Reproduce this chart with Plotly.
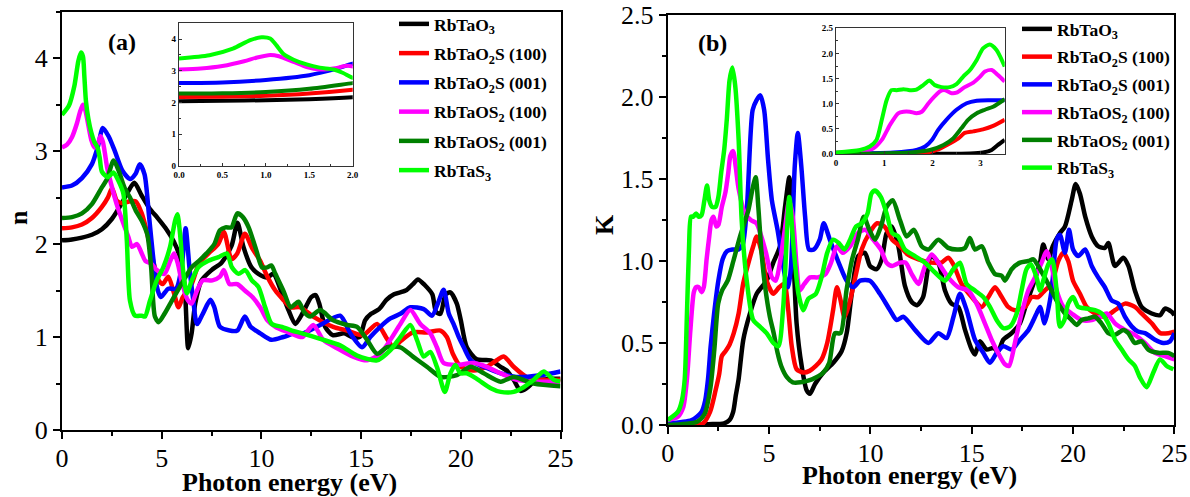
import plotly.graph_objects as go

W, H = 1190, 497
SERIF = "Liberation Serif, Times New Roman, serif"

names = ["RbTaO<sub>3</sub>", "RbTaO<sub>2</sub>S (100)", "RbTaO<sub>2</sub>S (001)",
         "RbTaOS<sub>2</sub> (100)", "RbTaOS<sub>2</sub> (001)", "RbTaS<sub>3</sub>"]
colors = ["#000000", "#ff0000", "#0000ff", "#ff00ff", "#008000", "#00ff00"]

# ---------------- refractive index n(E) ----------------
n_E_RbTaO3 = [0, 0.5, 1.0, 1.5, 2.0, 2.5, 3.0, 3.3, 3.63, 4.0, 4.4, 4.8, 5.2, 5.6, 5.9, 6.15, 6.33, 6.5, 6.68, 7.0, 7.5, 8.0, 8.5, 8.8, 9.1, 9.5, 9.85, 10.28, 10.6, 11.03, 11.36, 11.7, 12.1, 12.5, 12.72, 12.9, 13.2, 13.58, 14.16, 14.54, 14.93, 15.2, 15.5, 15.9, 16.27, 16.65, 17.23, 17.6, 17.85, 18.19, 18.57, 18.76, 18.98, 19.24, 19.48, 19.8, 20.0, 20.3, 20.8, 21.5, 22.0, 22.3, 22.65, 23.0, 23.3, 23.75, 24.5, 25.0]
n_RbTaO3 = [2.04, 2.05, 2.07, 2.1, 2.16, 2.27, 2.44, 2.56, 2.66, 2.52, 2.38, 2.28, 2.17, 2.03, 1.87, 1.55, 0.88, 1.04, 1.36, 1.61, 1.72, 1.8, 1.98, 2.23, 1.97, 1.75, 1.68, 1.64, 1.68, 1.47, 1.29, 1.14, 1.27, 1.43, 1.45, 1.36, 1.11, 1.02, 1.04, 1.0, 1.0, 1.18, 1.25, 1.3, 1.4, 1.46, 1.5, 1.57, 1.62, 1.56, 1.46, 1.27, 1.25, 1.46, 1.48, 1.36, 1.18, 0.89, 0.76, 0.75, 0.68, 0.64, 0.54, 0.42, 0.45, 0.53, 0.55, 0.55]

n_E_RbTaO2S_100 = [0, 0.5, 1.0, 1.5, 2.0, 2.3, 2.51, 2.74, 3.03, 3.41, 3.7, 4.0, 4.28, 4.57, 4.85, 5.05, 5.33, 5.62, 5.84, 6.06, 6.5, 6.87, 7.35, 7.83, 8.12, 8.5, 8.79, 9.17, 9.55, 9.94, 10.3, 10.7, 11.1, 11.47, 11.95, 12.6, 13.6, 14.3, 15.1, 15.8, 16.3, 16.63, 17.0, 17.6, 18.3, 18.98, 19.3, 19.6, 20.0, 20.65, 21.3, 21.8, 22.15, 22.65, 23.3, 24.0, 25.0]
n_RbTaO2S_100 = [2.17, 2.18, 2.21, 2.28, 2.4, 2.5, 2.6, 2.47, 2.44, 2.46, 2.46, 2.33, 2.11, 1.82, 1.61, 1.57, 1.65, 1.47, 1.32, 1.43, 1.57, 1.79, 1.9, 2.0, 2.13, 1.84, 1.9, 2.11, 1.95, 1.82, 1.65, 1.5, 1.4, 1.32, 1.32, 1.22, 1.11, 1.07, 1.02, 1.14, 0.98, 0.89, 0.96, 1.05, 1.05, 1.07, 1.0, 0.82, 0.68, 0.64, 0.68, 0.75, 0.79, 0.68, 0.57, 0.54, 0.54]

n_E_RbTaO2S_001 = [0, 0.5, 1.0, 1.5, 1.8, 2.05, 2.36, 2.65, 3.03, 3.41, 3.7, 3.9, 4.14, 4.37, 4.57, 4.76, 4.95, 5.33, 5.72, 6.0, 6.2, 6.39, 6.58, 6.77, 7.06, 7.44, 7.64, 7.92, 8.4, 8.79, 9.17, 9.46, 9.94, 10.5, 11.1, 11.66, 12.1, 12.95, 13.95, 14.46, 15.05, 15.46, 15.96, 16.47, 16.97, 17.47, 18.14, 18.56, 18.9, 19.14, 19.4, 19.64, 19.9, 20.15, 20.5, 21.15, 22.0, 22.8, 24.0, 25.0]
n_RbTaO2S_001 = [2.61, 2.63, 2.71, 2.86, 3.05, 3.25, 3.15, 3.0, 2.79, 2.7, 2.76, 2.86, 2.75, 2.29, 1.86, 1.54, 1.43, 1.52, 1.52, 1.75, 2.17, 1.75, 1.4, 1.14, 1.25, 1.4, 1.32, 1.11, 1.07, 1.07, 1.22, 1.11, 1.04, 0.97, 1.0, 1.04, 1.04, 1.13, 1.23, 1.04, 0.89, 1.0, 1.11, 1.2, 1.25, 1.32, 1.3, 1.23, 1.39, 1.51, 1.25, 1.14, 1.0, 0.89, 0.75, 0.68, 0.61, 0.57, 0.59, 0.63]

n_E_RbTaOS2_100 = [0, 0.25, 0.5, 0.75, 0.9, 1.05, 1.15, 1.32, 1.47, 1.62, 1.8, 1.93, 2.05, 2.15, 2.26, 2.46, 2.74, 3.03, 3.32, 3.51, 3.76, 4.0, 4.18, 4.47, 4.76, 5.14, 5.43, 5.62, 5.81, 6.0, 6.3, 6.5, 6.77, 7.06, 7.54, 7.92, 8.12, 8.4, 8.79, 9.17, 9.55, 9.94, 10.3, 10.7, 11.1, 11.47, 12.05, 12.6, 13.1, 13.8, 14.6, 15.3, 15.96, 16.47, 16.97, 17.47, 17.97, 18.47, 18.8, 19.14, 19.8, 20.65, 21.3, 22.0, 22.8, 23.66, 25.0]
n_RbTaOS2_100 = [3.04, 3.07, 3.15, 3.3, 3.42, 3.5, 3.46, 3.28, 3.12, 3.04, 3.08, 3.16, 3.1, 2.98, 2.83, 2.65, 2.43, 2.25, 2.08, 1.97, 2.0, 1.9, 1.82, 1.79, 1.72, 1.68, 1.82, 1.9, 1.79, 1.6, 1.4, 1.36, 1.5, 1.61, 1.61, 1.65, 1.72, 1.57, 1.57, 1.5, 1.43, 1.32, 1.18, 1.11, 1.07, 1.04, 1.0, 1.13, 0.97, 0.88, 0.79, 0.75, 0.82, 0.97, 1.14, 1.29, 1.14, 1.04, 0.89, 0.72, 0.7, 0.72, 0.68, 0.61, 0.54, 0.52, 0.52]

n_E_RbTaOS2_001 = [0, 0.5, 1.0, 1.5, 2.0, 2.26, 2.59, 2.84, 3.13, 3.41, 3.7, 4.0, 4.28, 4.47, 4.66, 4.85, 5.14, 5.43, 5.72, 6.1, 6.5, 6.87, 7.25, 7.64, 7.92, 8.2, 8.5, 8.79, 9.07, 9.36, 9.75, 10.03, 10.3, 10.5, 10.7, 11.1, 11.47, 11.86, 12.14, 12.45, 12.95, 13.6, 14.3, 14.8, 15.3, 15.8, 16.3, 16.97, 17.6, 18.3, 19.0, 19.8, 20.5, 21.15, 22.0, 22.65, 23.66, 25.0]
n_RbTaOS2_001 = [2.28, 2.29, 2.33, 2.43, 2.61, 2.7, 2.9, 2.79, 2.61, 2.5, 2.36, 2.25, 2.1, 1.75, 1.22, 1.16, 1.25, 1.36, 1.47, 1.61, 1.75, 1.82, 1.9, 2.0, 2.15, 2.18, 2.18, 2.33, 2.29, 2.18, 1.93, 1.75, 1.75, 1.77, 1.68, 1.5, 1.32, 1.38, 1.27, 1.22, 1.29, 1.18, 1.13, 1.11, 0.97, 0.82, 0.89, 0.89, 0.79, 0.68, 0.57, 0.59, 0.68, 0.61, 0.52, 0.57, 0.5, 0.47]

n_E_RbTaS3 = [0, 0.35, 0.62, 0.82, 0.95, 1.05, 1.12, 1.2, 1.32, 1.47, 1.62, 1.78, 1.89, 2.0, 2.3, 2.58, 2.83, 3.08, 3.25, 3.41, 3.66, 4.0, 4.16, 4.41, 4.75, 5.08, 5.42, 5.67, 5.79, 5.92, 6.09, 6.26, 6.51, 6.84, 7.34, 7.85, 8.27, 8.52, 8.85, 9.19, 9.52, 9.85, 10.19, 10.52, 11.03, 11.53, 12.04, 12.95, 13.95, 14.8, 15.8, 16.47, 16.97, 17.47, 17.8, 18.14, 18.47, 18.8, 19.2, 19.48, 19.73, 19.98, 20.3, 20.8, 21.5, 22.0, 22.65, 23.15, 23.66, 24.16, 24.66, 25.0]
n_RbTaS3 = [3.39, 3.49, 3.7, 3.97, 4.06, 4.02, 3.81, 3.54, 3.35, 3.2, 3.1, 3.04, 2.93, 2.78, 2.72, 2.77, 2.68, 2.54, 2.04, 1.39, 1.23, 1.23, 1.22, 1.39, 1.61, 1.75, 1.97, 2.25, 2.32, 2.11, 1.68, 1.47, 1.61, 1.75, 1.82, 1.86, 1.9, 1.75, 1.68, 1.72, 1.61, 1.54, 1.32, 1.14, 1.11, 1.07, 1.04, 0.98, 0.91, 0.8, 0.75, 0.86, 1.0, 1.13, 0.97, 0.79, 0.84, 0.68, 0.41, 0.61, 0.7, 0.61, 0.61, 0.55, 0.45, 0.41, 0.41, 0.46, 0.54, 0.63, 0.54, 0.52]

# ---------------- extinction coefficient K(E) ----------------
K_E_RbTaO3 = [0, 1.0, 2.0, 2.78, 3.05, 3.23, 3.36, 3.5, 3.73, 4.06, 4.39, 4.88, 5.21, 5.54, 5.79, 6.0, 6.17, 6.36, 6.61, 6.86, 7.02, 7.27, 7.68, 8.17, 8.58, 8.83, 9.08, 9.4, 9.73, 9.98, 10.31, 10.56, 10.8, 11.05, 11.38, 11.7, 12.04, 12.3, 12.6, 13.0, 13.35, 13.68, 14.0, 14.34, 14.67, 15.0, 15.16, 15.4, 15.74, 16.06, 16.3, 16.56, 16.97, 17.38, 17.7, 18.04, 18.37, 18.53, 18.78, 19.0, 19.35, 19.6, 19.93, 20.13, 20.34, 20.6, 20.92, 21.24, 21.57, 21.74, 22.07, 22.48, 22.73, 23.05, 23.38, 23.88, 24.3, 24.53, 24.86, 25.0]
K_RbTaO3 = [0.0, 0.0, 0.005, 0.01, 0.03, 0.08, 0.18, 0.28, 0.52, 0.68, 0.8, 0.88, 0.99, 1.09, 1.33, 1.51, 1.13, 0.62, 0.36, 0.21, 0.19, 0.25, 0.32, 0.38, 0.45, 0.56, 0.8, 1.03, 1.05, 0.97, 0.95, 1.01, 1.17, 1.21, 1.09, 0.85, 0.75, 0.73, 0.78, 1.03, 0.99, 0.82, 0.74, 0.72, 0.58, 0.46, 0.43, 0.51, 0.46, 0.47, 0.45, 0.52, 0.56, 0.62, 0.74, 0.86, 0.99, 1.1, 1.01, 1.09, 1.17, 1.21, 1.37, 1.47, 1.41, 1.27, 1.15, 1.09, 1.08, 1.11, 0.97, 1.02, 0.97, 0.82, 0.72, 0.68, 0.67, 0.71, 0.69, 0.67]

K_E_RbTaO2S_100 = [0, 1.0, 1.74, 2.09, 2.36, 2.54, 2.67, 2.85, 3.05, 3.26, 3.5, 3.72, 3.9, 4.22, 4.39, 4.64, 4.88, 5.21, 5.5, 5.75, 5.95, 6.12, 6.36, 6.7, 7.0, 7.31, 7.59, 7.87, 8.16, 8.35, 8.53, 8.72, 9.0, 9.29, 9.57, 9.95, 10.33, 10.7, 11.08, 11.46, 11.84, 12.37, 13.0, 13.5, 13.84, 14.09, 14.5, 15.0, 15.5, 15.82, 16.15, 16.48, 16.8, 17.13, 17.63, 17.96, 18.28, 18.6, 18.94, 19.27, 19.52, 19.76, 20.0, 20.34, 20.67, 21.08, 21.57, 22.07, 22.56, 23.05, 23.38, 23.88, 24.3, 24.7, 25.0]
K_RbTaO2S_100 = [0.0, 0.0, 0.01, 0.08, 0.21, 0.31, 0.42, 0.45, 0.49, 0.56, 0.68, 0.86, 0.95, 1.09, 1.15, 1.05, 0.88, 0.8, 0.84, 0.86, 0.7, 0.48, 0.34, 0.32, 0.33, 0.36, 0.4, 0.5, 0.7, 0.84, 0.76, 0.66, 0.76, 0.92, 1.07, 1.17, 1.23, 1.21, 1.13, 1.09, 1.04, 1.01, 0.99, 0.99, 1.02, 0.98, 0.86, 0.78, 0.72, 0.78, 0.84, 0.78, 0.72, 0.7, 0.72, 0.78, 0.78, 0.82, 0.86, 1.0, 1.05, 1.0, 0.88, 0.8, 0.72, 0.68, 0.66, 0.7, 0.74, 0.72, 0.68, 0.62, 0.56, 0.56, 0.57]

K_E_RbTaO2S_001 = [0, 1.19, 1.67, 1.85, 1.99, 2.12, 2.29, 2.5, 2.71, 2.92, 3.19, 3.5, 3.7, 3.91, 4.19, 4.38, 4.57, 4.76, 4.95, 5.14, 5.42, 5.8, 5.95, 6.08, 6.27, 6.42, 6.59, 6.78, 6.97, 7.21, 7.5, 7.7, 8.0, 8.5, 8.83, 9.16, 9.49, 9.98, 10.47, 10.97, 11.3, 11.62, 12.2, 12.86, 13.35, 13.76, 14.1, 14.42, 14.75, 15.16, 15.57, 15.9, 16.23, 16.56, 16.97, 17.38, 17.8, 18.2, 18.37, 18.6, 18.94, 19.19, 19.35, 19.6, 19.8, 20.0, 20.26, 20.6, 20.92, 21.24, 21.57, 21.9, 22.23, 22.56, 22.9, 23.2, 23.55, 24.04, 24.45, 24.78, 25.0]
K_RbTaO2S_001 = [0.01, 0.03, 0.08, 0.15, 0.28, 0.48, 0.68, 0.88, 1.01, 1.06, 1.07, 1.07, 1.1, 1.33, 1.92, 1.98, 2.01, 1.92, 1.62, 1.37, 1.19, 0.9, 0.84, 0.96, 1.58, 1.78, 1.58, 1.27, 1.07, 1.07, 1.13, 1.23, 1.13, 0.97, 0.88, 0.84, 0.88, 0.88, 0.8, 0.7, 0.64, 0.66, 0.58, 0.5, 0.56, 0.53, 0.66, 0.8, 0.7, 0.52, 0.44, 0.38, 0.44, 0.48, 0.46, 0.52, 0.58, 0.68, 0.72, 0.62, 0.82, 1.13, 1.16, 1.05, 1.19, 1.07, 1.03, 1.07, 0.97, 0.9, 0.84, 0.76, 0.74, 0.66, 0.6, 0.57, 0.56, 0.52, 0.5, 0.51, 0.56]

K_E_RbTaOS2_100 = [0, 0.5, 0.77, 0.95, 1.12, 1.29, 1.4, 1.53, 1.67, 1.78, 1.92, 2.05, 2.16, 2.26, 2.4, 2.5, 2.67, 2.85, 2.99, 3.09, 3.23, 3.36, 3.5, 3.81, 4.1, 4.38, 4.57, 4.85, 5.14, 5.33, 5.51, 5.8, 5.99, 6.17, 6.36, 6.51, 6.74, 7.02, 7.4, 7.78, 8.06, 8.35, 8.63, 9.0, 9.38, 9.76, 10.14, 10.52, 10.8, 11.08, 11.46, 11.74, 12.04, 12.37, 12.7, 13.03, 13.35, 13.84, 14.34, 14.83, 15.24, 15.65, 15.98, 16.3, 16.64, 16.84, 17.13, 17.46, 17.79, 18.12, 18.45, 18.7, 18.94, 19.19, 19.52, 19.93, 20.42, 20.92, 21.33, 21.66, 22.07, 22.56, 23.05, 23.55, 24.04, 24.53, 25.0]
K_RbTaOS2_100 = [0.03, 0.05, 0.11, 0.28, 0.58, 0.81, 0.84, 0.84, 0.81, 0.84, 1.01, 1.15, 1.25, 1.27, 1.21, 1.22, 1.33, 1.42, 1.54, 1.64, 1.67, 1.57, 1.44, 1.29, 1.25, 1.23, 1.17, 1.05, 0.9, 0.88, 0.97, 1.21, 1.37, 1.27, 0.97, 0.82, 0.86, 0.9, 0.9, 0.92, 0.99, 1.09, 1.05, 1.09, 1.17, 1.19, 1.13, 1.07, 0.99, 0.97, 0.99, 0.99, 0.92, 0.86, 0.97, 1.04, 0.99, 0.9, 0.84, 0.82, 0.74, 0.62, 0.52, 0.44, 0.37, 0.36, 0.5, 0.68, 0.82, 0.9, 0.99, 1.06, 0.97, 0.82, 0.72, 0.68, 0.64, 0.64, 0.66, 0.68, 0.62, 0.58, 0.55, 0.5, 0.44, 0.42, 0.4]

K_E_RbTaOS2_001 = [0, 1.45, 1.83, 2.11, 2.3, 2.49, 2.68, 2.96, 3.24, 3.57, 3.98, 4.2, 4.34, 4.47, 4.63, 4.81, 5.04, 5.23, 5.42, 5.6, 5.89, 6.17, 6.55, 6.93, 7.31, 7.68, 7.97, 8.25, 8.53, 8.82, 9.1, 9.38, 9.67, 9.95, 10.23, 10.52, 10.8, 11.1, 11.46, 11.79, 12.15, 12.53, 12.86, 13.35, 13.84, 14.34, 14.67, 14.91, 15.16, 15.5, 15.82, 16.15, 16.48, 16.64, 16.97, 17.38, 17.8, 18.04, 18.28, 18.6, 18.94, 19.27, 19.6, 19.93, 20.18, 20.42, 20.75, 21.08, 21.4, 21.74, 22.07, 22.48, 22.73, 23.05, 23.38, 23.71, 24.2, 24.7, 25.0]
K_RbTaOS2_001 = [0.0, 0.02, 0.07, 0.23, 0.46, 0.74, 0.82, 0.88, 1.0, 1.15, 1.31, 1.45, 1.51, 1.33, 1.05, 0.84, 0.66, 0.56, 0.44, 0.36, 0.29, 0.26, 0.26, 0.27, 0.29, 0.32, 0.38, 0.56, 0.56, 0.82, 1.01, 1.13, 1.27, 1.19, 1.13, 1.21, 1.33, 1.37, 1.25, 1.15, 1.19, 1.09, 1.07, 1.13, 1.08, 1.07, 1.08, 1.14, 1.07, 1.09, 0.99, 0.92, 0.91, 0.88, 0.95, 0.99, 1.0, 1.01, 0.97, 0.9, 0.82, 0.74, 0.68, 0.64, 0.61, 0.64, 0.65, 0.66, 0.62, 0.56, 0.55, 0.58, 0.56, 0.5, 0.51, 0.46, 0.44, 0.44, 0.42]

K_E_RbTaS3 = [0, 0.5, 0.7, 0.84, 0.95, 1.05, 1.15, 1.26, 1.4, 1.53, 1.67, 1.81, 1.94, 2.05, 2.19, 2.36, 2.5, 2.64, 2.78, 2.92, 3.05, 3.19, 3.33, 3.5, 3.65, 3.9, 4.22, 4.55, 4.88, 5.21, 5.46, 5.7, 6.0, 6.2, 6.45, 6.69, 6.94, 7.31, 7.59, 7.87, 8.16, 8.44, 8.72, 9.0, 9.29, 9.57, 9.86, 10.05, 10.23, 10.52, 10.8, 11.08, 11.37, 11.7, 12.2, 12.7, 13.19, 13.68, 14.09, 14.42, 14.75, 15.16, 15.57, 15.9, 16.23, 16.56, 16.89, 17.22, 17.46, 17.7, 17.92, 18.2, 18.37, 18.53, 18.78, 18.97, 19.19, 19.35, 19.57, 19.76, 20.0, 20.26, 20.67, 21.08, 21.41, 21.74, 22.07, 22.4, 22.73, 23.05, 23.3, 23.63, 23.96, 24.29, 24.62, 24.95]
K_RbTaS3 = [0.03, 0.08, 0.15, 0.28, 0.68, 1.07, 1.27, 1.27, 1.29, 1.27, 1.28, 1.37, 1.46, 1.37, 1.33, 1.33, 1.39, 1.54, 1.67, 1.87, 2.1, 2.18, 2.07, 1.74, 1.25, 0.88, 0.64, 0.6, 0.56, 0.5, 0.48, 0.72, 1.39, 1.1, 0.8, 0.7, 0.77, 0.8, 0.9, 1.05, 1.13, 1.11, 1.07, 1.13, 1.21, 1.23, 1.29, 1.41, 1.43, 1.39, 1.29, 1.17, 1.15, 1.07, 1.03, 0.99, 0.93, 0.88, 0.95, 0.99, 0.86, 0.82, 0.78, 0.72, 0.64, 0.59, 0.6, 0.68, 0.82, 0.95, 0.98, 0.9, 0.82, 0.88, 0.98, 1.01, 0.82, 0.6, 0.64, 0.74, 0.78, 0.72, 0.71, 0.7, 0.68, 0.62, 0.52, 0.46, 0.4, 0.36, 0.29, 0.23, 0.32, 0.4, 0.36, 0.34]

# ---------------- inset of K (0 - 3.5 eV) ----------------
Ki_E_RbTaO3 = [0, 1.0, 2.0, 2.78, 3.05, 3.23, 3.36, 3.5]
Ki_RbTaO3 = [0.0, 0.0, 0.005, 0.01, 0.03, 0.08, 0.18, 0.28]
Ki_E_RbTaO2S_100 = [0, 1.0, 1.74, 2.09, 2.36, 2.54, 2.67, 2.85, 3.05, 3.26, 3.5]
Ki_RbTaO2S_100 = [0.0, 0.0, 0.01, 0.08, 0.21, 0.31, 0.42, 0.45, 0.49, 0.56, 0.68]
Ki_E_RbTaO2S_001 = [0, 1.19, 1.67, 1.85, 1.99, 2.12, 2.29, 2.5, 2.71, 2.92, 3.19, 3.5]
Ki_RbTaO2S_001 = [0.01, 0.03, 0.08, 0.15, 0.28, 0.48, 0.68, 0.88, 1.01, 1.06, 1.07, 1.07]
Ki_E_RbTaOS2_100 = [0, 0.5, 0.77, 0.95, 1.12, 1.29, 1.4, 1.53, 1.67, 1.78, 1.92, 2.05, 2.16, 2.26, 2.4, 2.5, 2.67, 2.85, 2.99, 3.09, 3.23, 3.36, 3.5]
Ki_RbTaOS2_100 = [0.03, 0.05, 0.11, 0.28, 0.58, 0.81, 0.84, 0.84, 0.81, 0.84, 1.01, 1.15, 1.25, 1.27, 1.21, 1.22, 1.33, 1.42, 1.54, 1.64, 1.67, 1.57, 1.44]
Ki_E_RbTaOS2_001 = [0, 1.53, 1.95, 2.23, 2.43, 2.6, 2.74, 2.92, 3.09, 3.26, 3.5]
Ki_RbTaOS2_001 = [0.0, 0.03, 0.08, 0.18, 0.31, 0.51, 0.68, 0.81, 0.88, 0.94, 1.09]
Ki_E_RbTaS3 = [0, 0.5, 0.7, 0.84, 0.95, 1.05, 1.15, 1.26, 1.4, 1.53, 1.67, 1.81, 1.94, 2.05, 2.19, 2.36, 2.5, 2.64, 2.78, 2.92, 3.05, 3.19, 3.33, 3.5]
Ki_RbTaS3 = [0.03, 0.08, 0.15, 0.28, 0.68, 1.07, 1.27, 1.27, 1.29, 1.27, 1.28, 1.37, 1.46, 1.37, 1.33, 1.33, 1.39, 1.54, 1.67, 1.87, 2.1, 2.18, 2.07, 1.74]

n_sets = [(n_E_RbTaO3, n_RbTaO3), (n_E_RbTaO2S_100, n_RbTaO2S_100), (n_E_RbTaO2S_001, n_RbTaO2S_001),
          (n_E_RbTaOS2_100, n_RbTaOS2_100), (n_E_RbTaOS2_001, n_RbTaOS2_001), (n_E_RbTaS3, n_RbTaS3)]
K_sets = [(K_E_RbTaO3, K_RbTaO3), (K_E_RbTaO2S_100, K_RbTaO2S_100), (K_E_RbTaO2S_001, K_RbTaO2S_001),
          (K_E_RbTaOS2_100, K_RbTaOS2_100), (K_E_RbTaOS2_001, K_RbTaOS2_001), (K_E_RbTaS3, K_RbTaS3)]
Ki_sets = [(Ki_E_RbTaO3, Ki_RbTaO3), (Ki_E_RbTaO2S_100, Ki_RbTaO2S_100), (Ki_E_RbTaO2S_001, Ki_RbTaO2S_001),
           (Ki_E_RbTaOS2_100, Ki_RbTaOS2_100), (Ki_E_RbTaOS2_001, Ki_RbTaOS2_001), (Ki_E_RbTaS3, Ki_RbTaS3)]

fig = go.Figure()
SM = 0.7
LW = 4.5
for i in range(6):
    x, y = n_sets[i]
    fig.add_trace(go.Scatter(x=x, y=y, mode="lines", name=names[i], legend="legend",
                             legendgroup="a%d" % i, line=dict(color=colors[i], width=LW, shape="spline", smoothing=SM),
                             xaxis="x", yaxis="y"))
for i in range(6):
    x, y = K_sets[i]
    fig.add_trace(go.Scatter(x=x, y=y, mode="lines", name=names[i], legend="legend2",
                             legendgroup="b%d" % i, line=dict(color=colors[i], width=LW, shape="spline", smoothing=SM),
                             xaxis="x2", yaxis="y2"))
for i in range(6):
    x, y = n_sets[i]
    fig.add_trace(go.Scatter(x=x, y=y, mode="lines", showlegend=False,
                             line=dict(color=colors[i], width=4, shape="spline", smoothing=SM),
                             xaxis="x3", yaxis="y3"))
for i in range(6):
    x, y = Ki_sets[i]
    fig.add_trace(go.Scatter(x=x, y=y, mode="lines", showlegend=False,
                             line=dict(color=colors[i], width=4, shape="spline", smoothing=SM),
                             xaxis="x4", yaxis="y4"))


def dx(a, b):
    return [a / W, b / W]


def dy(top, bottom):
    return [1 - bottom / H, 1 - top / H]


tickfont = dict(family=SERIF, size=26, color="black")
insfont = dict(family=SERIF, size=9, color="black", weight="bold")


def main_axis(dom, anchor, rng, dtick, minor, fmt=None, standoff=0):
    d = dict(domain=dom, anchor=anchor, range=rng, dtick=dtick, tick0=0, showgrid=False, zeroline=False,
             automargin=False, ticklabelstandoff=standoff,
             showline=True, linewidth=2, linecolor="black", mirror=True, ticks="outside", ticklen=7,
             tickwidth=2, tickcolor="black", tickfont=tickfont,
             minor=dict(dtick=minor, tick0=0, ticks="outside", ticklen=4, tickwidth=2, tickcolor="black", showgrid=False))
    if fmt:
        d["tickformat"] = fmt
    return d


def inset_axis(dom, anchor, rng, dtick, minor, fmt=None):
    d = dict(domain=dom, anchor=anchor, range=rng, dtick=dtick, tick0=0, showgrid=False, zeroline=False,
             automargin=False,
             showline=True, linewidth=1.2, linecolor="#333333", mirror=True, ticks="inside", ticklen=3,
             tickwidth=1, tickcolor="#333333", tickfont=insfont,
             minor=dict(dtick=minor, tick0=0, ticks="inside", ticklen=2, tickwidth=1, tickcolor="#333333", showgrid=False))
    if fmt:
        d["tickformat"] = fmt
    return d


legfont = dict(family=SERIF, size=17.5, color="black", weight="bold")

fig.update_layout(
    width=W, height=H, autosize=False,
    margin=dict(l=0, r=0, t=0, b=0, pad=0, autoexpand=False),
    paper_bgcolor="white", plot_bgcolor="white",
    xaxis=main_axis(dx(62, 560.5), "y", [0, 25], 5, 2.5, standoff=-3),
    yaxis=main_axis(dy(11.7, 430), "x", [0, 4.5], 1, 0.5),
    xaxis2=main_axis(dx(667.7, 1174.4), "y2", [0, 25], 5, 2.5, standoff=-3),
    yaxis2=main_axis(dy(15, 425), "x2", [0, 2.5], 0.5, 0.25, ".1f"),
    xaxis3=inset_axis(dx(179, 352.7), "y3", [0, 2], 0.5, 0.25, ".1f"),
    yaxis3=inset_axis(dy(23.3, 165.7), "x3", [0, 4.5], 1, 0.5),
    xaxis4=inset_axis(dx(836, 1004.7), "y4", [0, 3.5], 1, 0.5),
    yaxis4=inset_axis(dy(28.3, 154), "x4", [0, 2.5], 0.5, 0.25, ".1f"),
    legend=dict(x=394 / W, y=1 - 6 / H, xanchor="left", yanchor="top", font=legfont,
                bgcolor="rgba(0,0,0,0)", tracegroupgap=3.5, itemwidth=30, traceorder="grouped"),
    legend2=dict(x=1017 / W, y=1 - 11 / H, xanchor="left", yanchor="top", font=legfont,
                 bgcolor="rgba(0,0,0,0)", tracegroupgap=2, itemwidth=30, traceorder="grouped"),
    showlegend=True,
)

ann = [
    dict(text="<b>(a)</b>", x=122 / W, y=1 - 42 / H, font=dict(family=SERIF, size=24, color="black")),
    dict(text="<b>(b)</b>", x=712 / W, y=1 - 43 / H, font=dict(family=SERIF, size=24, color="black")),
    dict(text="<b>Photon energy (eV)</b>", x=289 / W, y=1 - 482 / H, font=dict(family=SERIF, size=26, color="black")),
    dict(text="<b>Photon energy (eV)</b>", x=910 / W, y=1 - 475 / H, font=dict(family=SERIF, size=26, color="black")),
    dict(text="<b>n</b>", x=18 / W, y=1 - 218 / H, textangle=-90, font=dict(family=SERIF, size=26, color="black")),
    dict(text="<b>K</b>", x=605 / W, y=1 - 225 / H, textangle=-90, font=dict(family=SERIF, size=26, color="black")),
]
for a in ann:
    a.update(xref="paper", yref="paper", showarrow=False, xanchor="center", yanchor="middle")
fig.update_layout(annotations=ann)

fig.write_html("out.html")
